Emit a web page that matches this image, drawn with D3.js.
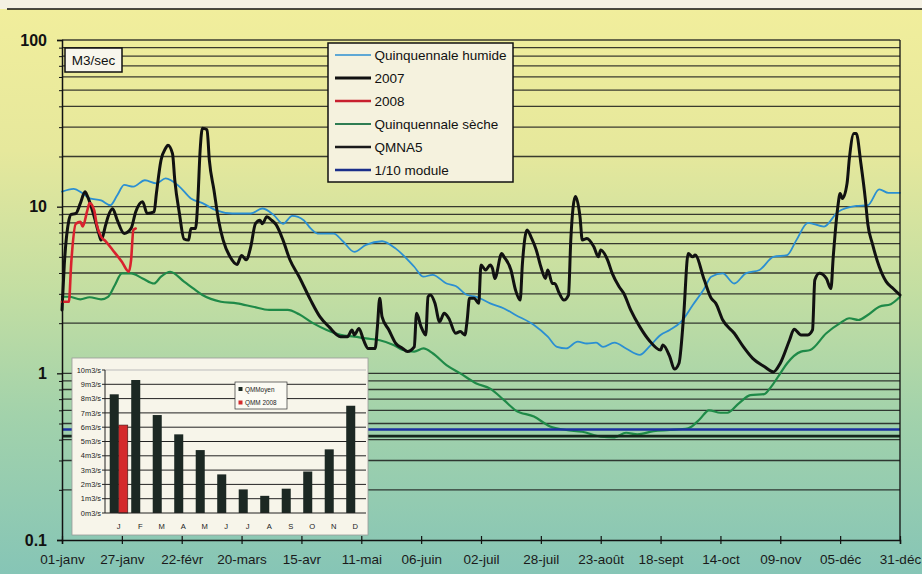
<!DOCTYPE html>
<html><head><meta charset="utf-8">
<script src="https://cdn.jsdelivr.net/npm/d3@7"></script>
<style>
body{margin:0;background:#f3f0e2}
svg{display:block;font-family:"Liberation Sans",Arial,Helvetica,sans-serif}
</style>
</head><body>
<svg id="chart" width="922" height="574"></svg>
<script>
// Day-of-year ticks (every 26 days) and their labels
const dayTicks = [0, 26, 52, 78, 104, 130, 156, 182, 208, 234, 260, 286, 312, 338, 364];
const tickLabels = ["01-janv", "27-janv", "22-févr", "20-mars", "15-avr", "11-mai", "06-juin",
  "02-juil", "28-juil", "23-août", "18-sept", "14-oct", "09-nov", "05-déc", "31-déc"];

// Daily flow series, [day of year, m3/s]
const wetYear = [[0,12.3],[5,12.8],[9,12],[12,11.2],[17,10.9],[21,10.2],[24,11.7],[27,13.5],[31,13.2],
  [36,14.4],[41,13.8],[45,14.8],[51,13.2],[56,11.2],[61,10.5],[67,9.5],[74,9.1],[82,9.1],[87,9.75],
  [92,8.9],[96,7.9],[100,8.8],[105,8.3],[108,7.4],[111,6.9],[118,6.9],[122,6.2],[127,5.35],[132,5.9],
  [139,6.2],[145,5.6],[153,4.36],[157,3.8],[161,3.9],[167,3.46],[171,3.34],[176,2.95],[180,2.88],
  [186,2.63],[192,2.45],[197,2.24],[205,1.95],[211,1.66],[215,1.44],[219,1.41],[224,1.55],[228,1.51],
  [232,1.53],[235,1.44],[240,1.53],[245,1.41],[251,1.29],[255,1.44],[260,1.7],[264,1.82],[269,2.04],
  [274,2.57],[279,3.23],[282,3.8],[287,3.98],[292,3.46],[297,3.98],[303,4.17],[309,5.0],[315,5.12],
  [319,6.3],[324,8.0],[331,7.6],[337,9.3],[345,10.1],[350,10.2],[355,12.7],[359,12.1],[364,12.1]];

const flow2007 = [[0,2.4],[1,4.5],[3,8.3],[4,9.0],[6,9.1],[8,10.5],[10,12.3],[11,11.6],[14,8.7],[16,6.9],
  [17,6.3],[19,7.8],[20,8.7],[22,9.7],[24,8.3],[27,6.9],[30,7.4],[32,9.3],[35,10.7],[37,9.1],[40,9.3],
  [41,12],[43,19],[45,22.4],[46,23.4],[48,20.8],[49,14.4],[51,9.1],[53,6.4],[55,6.3],[56,7.4],[58,7.4],
  [59,10.9],[60,21.8],[61,29.5],[63,28.9],[64,19],[66,12.6],[68,8.3],[70,6.3],[73,5.0],[76,4.5],[78,5.1],
  [80,4.8],[82,5.75],[84,7.9],[86,8.3],[87,7.9],[89,8.7],[91,8.3],[93,7.8],[96,6.3],[99,4.8],[103,3.8],
  [108,2.75],[112,2.19],[116,1.9],[121,1.66],[124,1.66],[126,1.82],[127,1.7],[129,1.86],[131,1.58],
  [133,1.41],[136,1.41],[137,1.9],[138,2.82],[139,2.19],[142,1.82],[145,1.51],[148,1.41],[150,1.35],
  [153,1.44],[154,2.29],[156,1.9],[158,1.7],[159,2.88],[160,2.95],[162,2.63],[164,2.04],[166,2.29],
  [168,2.14],[171,1.74],[173,1.78],[175,1.7],[176,2.09],[177,2.82],[179,2.82],[181,2.63],[182,4.47],
  [184,4.17],[186,4.47],[187,4.26],[188,3.71],[191,5.24],[192,5.0],[195,4.17],[197,3.16],[199,2.75],
  [200,4.57],[202,7.25],[204,6.45],[206,5.5],[208,4.36],[210,3.71],[211,4.17],[213,3.46],[214,3.46],
  [216,3.02],[218,2.75],[220,2.95],[221,6.3],[223,11.5],[225,8.7],[226,6.3],[228,6.45],[231,5.75],
  [233,5.0],[234,5.5],[237,4.78],[239,3.98],[242,3.31],[244,3.02],[247,2.4],[251,1.9],[255,1.58],
  [260,1.38],[261,1.48],[264,1.26],[266,1.06],[268,1.15],[270,2.19],[272,5.24],[274,5.0],[275,5.12],
  [279,3.63],[282,2.82],[284,2.63],[287,2.09],[292,1.74],[296,1.44],[300,1.23],[305,1.1],[309,1.02],
  [312,1.15],[316,1.58],[318,1.84],[321,1.7],[324,1.7],[326,1.82],[327,3.63],[329,3.98],[332,3.71],
  [334,3.23],[335,5.0],[337,10],[338,12],[339,11.2],[341,13.8],[342,19.4],[344,27.5],[345,27.5],
  [347,18.2],[349,10.9],[350,7.9],[352,6.0],[355,4.36],[358,3.55],[361,3.23],[364,2.95]];

const flow2008 = [[0,2.69],[3,2.69],[4,4.57],[6,7.9],[8,8.1],[9,7.6],[11,9.5],[12,10.5],[14,9.5],
  [15,7.9],[17,6.6],[19,6.2],[22,5.5],[26,4.67],[29,4.07],[30,4.78],[31,7.25],[32,7.4]];

const dryYear = [[0,2.88],[3,2.88],[8,2.78],[12,2.86],[17,2.78],[20,2.88],[23,3.39],[26,3.98],[30,3.98],
  [35,3.71],[40,3.46],[43,3.8],[47,4.07],[53,3.55],[57,3.23],[61,2.95],[69,2.69],[76,2.63],[83,2.51],
  [90,2.4],[98,2.4],[103,2.26],[109,2.0],[115,1.82],[121,1.7],[127,1.66],[132,1.62],[138,1.58],
  [144,1.48],[148,1.38],[153,1.35],[157,1.41],[161,1.32],[167,1.12],[173,1.0],[180,0.87],[186,0.81],
  [192,0.69],[197,0.6],[205,0.55],[212,0.48],[219,0.457],[226,0.446],[234,0.417],[240,0.413],
  [245,0.44],[250,0.43],[257,0.45],[264,0.457],[272,0.468],[277,0.53],[281,0.6],[286,0.58],[289,0.58],
  [294,0.66],[299,0.74],[305,0.75],[308,0.83],[312,1.0],[315,1.15],[321,1.35],[325,1.38],[332,1.74],
  [338,2.0],[342,2.14],[346,2.09],[350,2.24],[355,2.51],[360,2.6],[364,2.88]];

// Reference flows (m3/s)
const qmna5 = 0.42;
const moduleTenth = 0.46;

// Monthly mean flows for the inset bar chart
const monthLabels = ["J","F","M","A","M","J","J","A","S","O","N","D"];
const qmMoyen = [8.3, 9.3, 6.85, 5.5, 4.4, 2.7, 1.65, 1.2, 1.7, 2.9, 4.45, 7.5];
const qmm2008 = [6.15, null, null, null, null, null, null, null, null, null, null, null];
const insetTicks = [0,1,2,3,4,5,6,7,8,9,10];

const svg = d3.select("#chart");

// Background gradient
const defs = svg.append("defs");
const grad = defs.append("linearGradient").attr("id", "bg").attr("x1", 0).attr("y1", 0).attr("x2", 0).attr("y2", 1);
[[0, "#f1ee9c"], [0.25, "#e6e89c"], [0.5, "#c3dea2"], [0.72, "#a2d2ab"], [1, "#86c5b6"]]
  .forEach(([o, c]) => grad.append("stop").attr("offset", o).attr("stop-color", c));
svg.append("rect").attr("x", 0).attr("y", 0).attr("width", 922).attr("height", 574).attr("fill", "#f4f1e3");
svg.append("rect").attr("x", 0).attr("y", 9).attr("width", 922).attr("height", 565).attr("fill", "url(#bg)");
svg.append("line").attr("x1", 7).attr("x2", 922).attr("y1", 9).attr("y2", 9).attr("stroke", "#111").attr("stroke-width", 1.5);

const x = d3.scaleLinear().domain([0, 364]).range([62, 900]);
const y = d3.scaleLog().domain([0.1, 100]).range([540, 40]);

// Horizontal grid at every 1..9 x 10^k
const gridVals = y.ticks().filter(v => v > 0.1 + 1e-9);
svg.append("g").selectAll("line").data(gridVals).join("line")
  .attr("x1", x(0)).attr("x2", x(364))
  .attr("y1", d => y(d)).attr("y2", d => y(d))
  .attr("stroke", "#1b1b1b").attr("stroke-width", 1.3).attr("stroke-opacity", 0.85);

// Flow lines
const line = d3.line().x(d => x(d[0])).y(d => y(d[1])).curve(d3.curveMonotoneX);
const series = [
  {data: dryYear, color: "#1f8a48", w: 2.2},
  {data: wetYear, color: "#2b8fd2", w: 1.8},
  {data: flow2007, color: "#111111", w: 3},
  {data: flow2008, color: "#d9222e", w: 2.6}
];
svg.append("g").selectAll("path").data(series).join("path")
  .attr("d", d => line(d.data)).attr("fill", "none")
  .attr("stroke", d => d.color).attr("stroke-width", d => d.w)
  .attr("stroke-linejoin", "round").attr("stroke-linecap", "round");

// Reference flow lines
svg.append("line").attr("x1", x(0)).attr("x2", x(364)).attr("y1", y(qmna5)).attr("y2", y(qmna5))
  .attr("stroke", "#15261c").attr("stroke-width", 2.6);
svg.append("line").attr("x1", x(0)).attr("x2", x(364)).attr("y1", y(moduleTenth)).attr("y2", y(moduleTenth))
  .attr("stroke", "#1b2fa0").attr("stroke-width", 2.6);

// Right frame
svg.append("line").attr("x1", x(364)).attr("x2", x(364)).attr("y1", y(100)).attr("y2", y(0.1))
  .attr("stroke", "#111").attr("stroke-width", 1.3);

// Y axis
const yAxis = svg.append("g").attr("transform", `translate(${x(0)},0)`)
  .call(d3.axisLeft(y).tickValues([0.1, 1, 10, 100]).tickSize(5).tickPadding(10)
    .tickFormat(d => d < 1 ? "0.1" : String(d)));
yAxis.select(".domain").attr("stroke", "#111").attr("stroke-width", 1.5);
yAxis.selectAll("line").attr("stroke", "#111").attr("stroke-width", 1.3);
yAxis.selectAll("text").attr("font-size", 16).attr("font-weight", "bold").attr("fill", "#111")
  .attr("font-family", "'Liberation Sans',Arial,sans-serif");
const yMinor = svg.append("g").attr("transform", `translate(${x(0)},0)`)
  .call(d3.axisLeft(y).tickValues(gridVals.filter(v => ![1, 10, 100].includes(v))).tickSize(3).tickFormat(""));
yMinor.select(".domain").remove();
yMinor.selectAll("line").attr("stroke", "#111");

// X axis
const xAxis = svg.append("g").attr("transform", `translate(0,${y(0.1)})`)
  .call(d3.axisBottom(x).tickValues(dayTicks).tickSize(4).tickFormat((d, i) => tickLabels[i]));
xAxis.select(".domain").attr("stroke", "#111").attr("stroke-width", 1.5);
xAxis.selectAll(".tick line").attr("y1", -4).attr("stroke", "#111").attr("stroke-width", 1.2);
xAxis.selectAll("text").attr("y", 14).attr("font-size", 13.5).attr("fill", "#1a1a1a")
  .attr("font-family", "'Liberation Sans',Arial,sans-serif");

// Inset: monthly bars
const inset = svg.append("g");
inset.append("rect").attr("x", 72).attr("y", 358).attr("width", 296).attr("height", 177)
  .attr("fill", "#f7f5ea").attr("stroke", "#999").attr("stroke-width", 0.8);
const iy = d3.scaleLinear().domain([0, 10]).range([513, 370]);
const ix = d3.scaleBand().domain(d3.range(12)).range([108, 366]).paddingInner(0.16).paddingOuter(0.08);
const isub = d3.scaleBand().domain([0, 1]).range([0, ix.bandwidth()]);
inset.append("g").selectAll("line").data(insetTicks.filter(v => v > 0)).join("line")
  .attr("x1", 105).attr("x2", 366).attr("y1", d => iy(d)).attr("y2", d => iy(d))
  .attr("stroke", d => d === 10 ? "#bbb" : "#222").attr("stroke-width", 1);
inset.append("g").selectAll("text").data(insetTicks).join("text")
  .attr("x", 101).attr("y", d => iy(d) + 2.6).attr("text-anchor", "end")
  .attr("font-size", 7.4).attr("fill", "#222").text(d => `${d}m3/s`);
inset.append("g").selectAll("line").data(insetTicks).join("line")
  .attr("x1", 102).attr("x2", 105).attr("y1", d => iy(d)).attr("y2", d => iy(d)).attr("stroke", "#222");
inset.append("g").selectAll("rect").data(qmMoyen).join("rect")
  .attr("x", (d, i) => ix(i) + isub(0)).attr("width", isub.bandwidth())
  .attr("y", d => iy(d)).attr("height", d => iy(0) - iy(d)).attr("fill", "#1c2823");
inset.append("g").selectAll("rect").data(qmm2008.map((v, i) => [i, v]).filter(d => d[1] != null)).join("rect")
  .attr("x", d => ix(d[0]) + isub(1)).attr("width", isub.bandwidth())
  .attr("y", d => iy(d[1])).attr("height", d => iy(0) - iy(d[1])).attr("fill", "#d42a2c")
  .attr("stroke", "#3a1a1a").attr("stroke-width", 0.6);
inset.append("line").attr("x1", 105).attr("x2", 105).attr("y1", iy(10)).attr("y2", iy(0)).attr("stroke", "#222");
inset.append("line").attr("x1", 105).attr("x2", 366).attr("y1", iy(0)).attr("y2", iy(0)).attr("stroke", "#222");
inset.append("g").selectAll("text").data(monthLabels).join("text")
  .attr("x", (d, i) => ix(i) + ix.bandwidth() / 2).attr("y", 529).attr("text-anchor", "middle")
  .attr("font-size", 7.6).attr("fill", "#222").text(d => d);
// Inset legend
const il = inset.append("g");
il.append("rect").attr("x", 235).attr("y", 382).attr("width", 52).attr("height", 27)
  .attr("fill", "#fbfaf3").attr("stroke", "#333").attr("stroke-width", 0.7);
[["QMMoyen", "#1c2823", 389.5], ["QMM 2008", "#d42a2c", 403]].forEach(([t, c, yy]) => {
  il.append("rect").attr("x", 238.5).attr("y", yy - 2.5).attr("width", 4).attr("height", 4).attr("fill", c);
  il.append("text").attr("x", 245).attr("y", yy + 2).attr("font-size", 6.4).attr("fill", "#222").text(t);
});

// Units box
svg.append("rect").attr("x", 65).attr("y", 48).attr("width", 57).attr("height", 24)
  .attr("fill", "#f8f6ec").attr("stroke", "#111").attr("stroke-width", 1.5);
svg.append("text").attr("x", 93.5).attr("y", 65).attr("text-anchor", "middle")
  .attr("font-size", 13.5).attr("fill", "#111").text("M3/sec");

// Legend
const legendItems = [
  {label: "Quinquennale humide", color: "#2b8fd2", w: 1.6},
  {label: "2007", color: "#111111", w: 3},
  {label: "2008", color: "#c8202e", w: 2.4},
  {label: "Quinquennale sèche", color: "#2e7d52", w: 1.8},
  {label: "QMNA5", color: "#1a1a1a", w: 2.4},
  {label: "1/10 module", color: "#1b2f8a", w: 2.4}
];
const lg = svg.append("g");
lg.append("rect").attr("x", 328).attr("y", 43).attr("width", 185).attr("height", 139)
  .attr("fill", "#f5f2de").attr("stroke", "#111").attr("stroke-width", 1.5);
legendItems.forEach((d, i) => {
  const yy = 55 + i * 23;
  lg.append("line").attr("x1", 335).attr("x2", 371).attr("y1", yy).attr("y2", yy)
    .attr("stroke", d.color).attr("stroke-width", d.w);
  lg.append("text").attr("x", 374.5).attr("y", yy + 4.8).attr("font-size", 13.5).attr("fill", "#111").text(d.label);
});
</script>
</body></html>
